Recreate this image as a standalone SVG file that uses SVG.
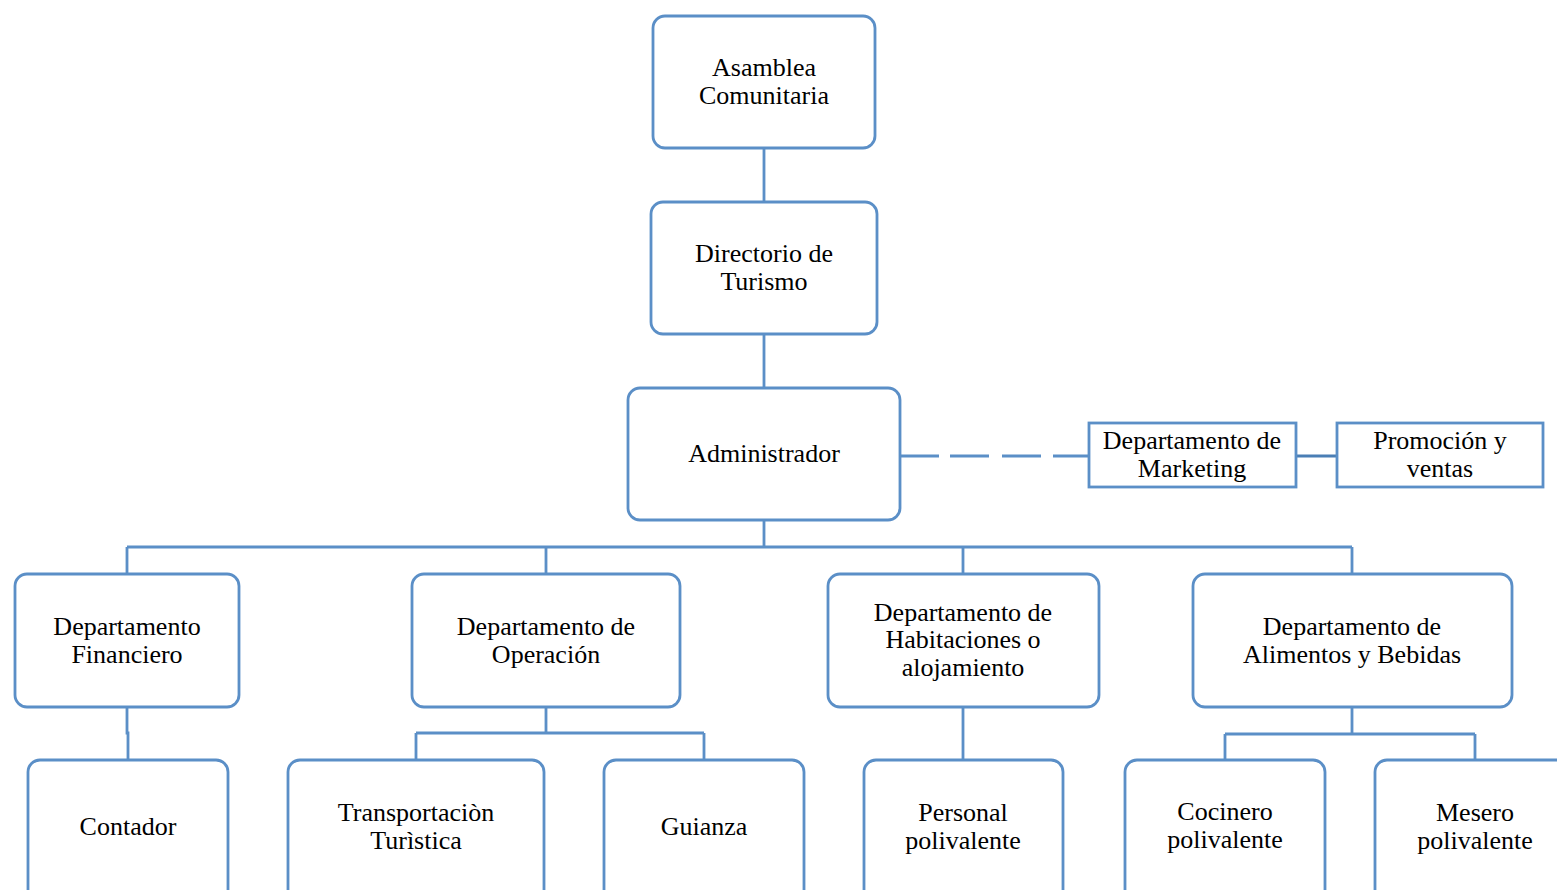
<svg xmlns="http://www.w3.org/2000/svg" width="1557" height="890" viewBox="0 0 1557 890">
<style>
.box{fill:#fff;stroke:#5B8FC7;stroke-width:2.8}
.sq{fill:#fff;stroke:#5B8FC7;stroke-width:2.8}
.ln{fill:none;stroke:#5B8FC7;stroke-width:2.8}
.dk{fill:none;stroke:#4A7EB5;stroke-width:3.2}
text{font-family:"Liberation Serif","Times New Roman",serif;font-size:26px;fill:#000;text-anchor:middle}
</style>
<rect width="1557" height="890" fill="#fff"/>
<g id="connectors">
<path class="ln" d="M764 148V202M764 334V388M764 520V547M127 547H1352M127 547V574M546 547V574M963 547V574M1352 547V574"/>
<path class="ln" d="M127 707V733H128V760"/>
<path class="ln" d="M546 707V733M416 733H704M416 733V760M704 733V760"/>
<path class="ln" d="M963 707V760"/>
<path class="ln" d="M1352 707V734M1225 734H1475M1225 734V760M1475 734V760"/>
<path class="ln" d="M900 456H939M950 456H989M1002 456H1041M1053 456H1089"/>
<path class="dk" d="M1296 456H1337"/>
</g>
<g id="asamblea"><rect class="box" x="653" y="16" width="222" height="132" rx="12"/><text x="764" y="76">Asamblea</text><text x="764" y="104">Comunitaria</text></g>
<g id="directorio"><rect class="box" x="651" y="202" width="226" height="132" rx="12"/><text x="764" y="262">Directorio de</text><text x="764" y="290">Turismo</text></g>
<g id="administrador"><rect class="box" x="628" y="388" width="272" height="132" rx="12"/><text x="764" y="462">Administrador</text></g>
<g id="marketing"><rect class="sq" x="1089" y="423" width="207" height="64"/><text x="1192" y="449">Departamento de</text><text x="1192" y="477">Marketing</text></g>
<g id="promocion"><rect class="sq" x="1337" y="423" width="206" height="64"/><text x="1440" y="449">Promoción y</text><text x="1440" y="477">ventas</text></g>
<g id="financiero"><rect class="box" x="15" y="574" width="224" height="133" rx="12"/><text x="127" y="635">Departamento</text><text x="127" y="663">Financiero</text></g>
<g id="operacion"><rect class="box" x="412" y="574" width="268" height="133" rx="12"/><text x="546" y="635">Departamento de</text><text x="546" y="663">Operación</text></g>
<g id="habitaciones"><rect class="box" x="828" y="574" width="271" height="133" rx="12"/><text x="963" y="621">Departamento de</text><text x="963" y="648">Habitaciones o</text><text x="963" y="676">alojamiento</text></g>
<g id="alimentos"><rect class="box" x="1193" y="574" width="319" height="133" rx="12"/><text x="1352" y="635">Departamento de</text><text x="1352" y="663">Alimentos y Bebidas</text></g>
<g id="contador"><rect class="box" x="28" y="760" width="200" height="145" rx="12"/><text x="128" y="835">Contador</text></g>
<g id="transportacion"><rect class="box" x="288" y="760" width="256" height="145" rx="12"/><text x="416" y="821">Transportaciòn</text><text x="416" y="849">Turìstica</text></g>
<g id="guianza"><rect class="box" x="604" y="760" width="200" height="145" rx="12"/><text x="704" y="835">Guianza</text></g>
<g id="personal"><rect class="box" x="864" y="760" width="199" height="145" rx="12"/><text x="963" y="821">Personal</text><text x="963" y="849">polivalente</text></g>
<g id="cocinero"><rect class="box" x="1125" y="760" width="200" height="145" rx="12"/><text x="1225" y="820">Cocinero</text><text x="1225" y="848">polivalente</text></g>
<g id="mesero"><rect class="box" x="1375" y="760" width="200" height="145" rx="12"/><text x="1475" y="821">Mesero</text><text x="1475" y="849">polivalente</text></g>
</svg>
